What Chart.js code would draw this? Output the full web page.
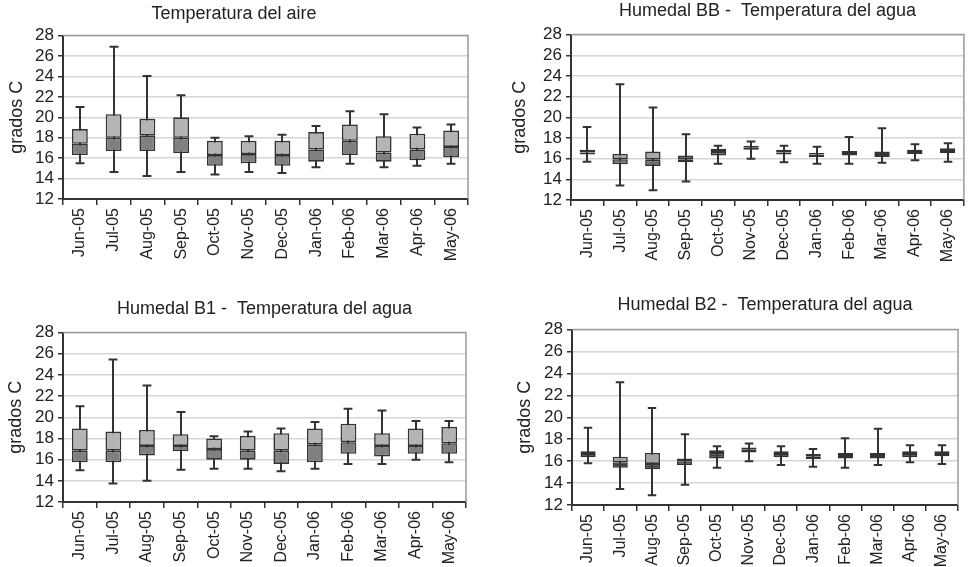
<!DOCTYPE html>
<html>
<head>
<meta charset="utf-8">
<script src="https://cdn.jsdelivr.net/npm/chart.js@4.4.1/dist/chart.umd.min.js"></script>
<style>
  html, body { margin: 0; padding: 0; background: #fff; }
  #wrap { position: relative; width: 970px; height: 567px; }
  .panel { position: absolute; }
</style>
</head>
<body>
<div id="wrap">
  <div class="panel" style="left:0;top:0;width:485px;height:290px"><canvas id="c1"></canvas></div>
  <div class="panel" style="left:485px;top:0;width:485px;height:290px"><canvas id="c2"></canvas></div>
  <div class="panel" style="left:0;top:290px;width:485px;height:277px"><canvas id="c3"></canvas></div>
  <div class="panel" style="left:485px;top:290px;width:485px;height:277px"><canvas id="c4"></canvas></div>
</div>
<script>
const months = ["Jun-05", "Jul-05", "Aug-05", "Sep-05", "Oct-05", "Nov-05",
                "Dec-05", "Jan-06", "Feb-06", "Mar-06", "Apr-06", "May-06"];
const yTicks = [12, 14, 16, 18, 20, 22, 24, 26, 28];

// Temperatura del aire
const aireMin = [15.5, 14.65, 14.25, 14.65, 14.4, 14.65, 14.55, 15.1, 15.45, 15.1, 15.25, 15.45];
const aireQ1  = [16.3, 16.7, 16.7, 16.5, 15.25, 15.5, 15.25, 15.65, 16.3, 15.65, 15.8, 16.1];
const aireMed = [17.4, 18.0, 18.2, 18.0, 16.3, 16.4, 16.3, 16.85, 17.7, 16.55, 16.85, 17.1];
const aireQ3  = [18.85, 20.3, 19.85, 20.0, 17.7, 17.7, 17.7, 18.55, 19.3, 18.15, 18.4, 18.7];
const aireMax = [21.0, 26.9, 24.05, 22.15, 18.0, 18.15, 18.3, 19.15, 20.6, 20.3, 19.0, 19.3];

// Humedal BB - agua
const bbMin = [15.7, 13.4, 12.95, 13.8, 15.5, 16.0, 15.65, 15.5, 15.5, 15.6, 15.85, 15.7];
const bbQ1  = [16.4, 15.45, 15.3, 15.65, 16.3, 16.85, 16.4, 16.15, 16.3, 16.15, 16.45, 16.55];
const bbMed = [16.6, 15.95, 15.9, 15.95, 16.65, 17.1, 16.6, 16.4, 16.55, 16.45, 16.65, 16.75];
const bbQ3  = [16.85, 16.45, 16.7, 16.3, 16.95, 17.25, 16.85, 16.55, 16.75, 16.7, 16.85, 17.0];
const bbMax = [19.05, 23.2, 20.95, 18.35, 17.25, 17.65, 17.25, 17.15, 18.1, 18.95, 17.4, 17.5];

// Humedal B1 - agua
const b1Min = [15.0, 13.75, 14.0, 15.05, 15.15, 15.15, 14.9, 15.15, 15.6, 15.6, 16.0, 15.75];
const b1Q1  = [15.75, 15.75, 16.4, 16.8, 16.0, 16.0, 15.6, 15.75, 16.55, 16.3, 16.55, 16.55];
const b1Med = [16.85, 16.85, 17.3, 17.3, 17.0, 16.85, 16.85, 17.45, 17.65, 17.3, 17.3, 17.55];
const b1Q3  = [18.95, 18.65, 18.8, 18.4, 18.0, 18.25, 18.5, 18.95, 19.4, 18.5, 18.95, 19.1];
const b1Max = [21.05, 25.45, 23.0, 20.5, 18.2, 18.65, 18.95, 19.55, 20.8, 20.65, 19.65, 19.65];

// Humedal B2 - agua
const b2Min = [15.8, 13.45, 12.9, 13.85, 15.4, 16.0, 15.65, 15.5, 15.4, 15.65, 15.9, 15.75];
const b2Q1  = [16.35, 15.4, 15.25, 15.65, 16.25, 16.8, 16.35, 16.2, 16.25, 16.25, 16.35, 16.45];
const b2Med = [16.65, 15.9, 15.75, 16.0, 16.75, 17.05, 16.65, 16.45, 16.55, 16.55, 16.65, 16.65];
const b2Q3  = [16.9, 16.4, 16.75, 16.25, 17.0, 17.25, 16.9, 16.65, 16.75, 16.75, 16.9, 16.9];
const b2Max = [19.05, 23.2, 20.85, 18.45, 17.35, 17.6, 17.35, 17.1, 18.1, 18.95, 17.45, 17.45];

const FONT = "'Liberation Sans', Arial, sans-serif";
const DARK = "#333";

// whiskers go under the boxes, plus the grey top/right frame of the plot area
function whiskerPlugin(mins, maxs) {
  return {
    id: "whiskers",
    beforeDatasetsDraw(chart) {
      const { ctx, chartArea: a } = chart;
      const y = chart.scales.y;
      ctx.save();
      ctx.strokeStyle = "#9a9a9a";
      ctx.lineWidth = 1.5;
      ctx.beginPath();
      ctx.moveTo(a.left, a.top);
      ctx.lineTo(a.right, a.top);
      ctx.lineTo(a.right, a.bottom);
      ctx.stroke();

      ctx.strokeStyle = DARK;
      ctx.lineWidth = 2;
      chart.getDatasetMeta(0).data.forEach((bar, i) => {
        const x = Math.round(bar.x);
        const top = y.getPixelForValue(maxs[i]);
        const bot = y.getPixelForValue(mins[i]);
        const cw = bar.width * 0.28;
        ctx.beginPath();
        ctx.moveTo(x, top); ctx.lineTo(x, bot);
        ctx.moveTo(x - cw, top); ctx.lineTo(x + cw, top);
        ctx.moveTo(x - cw, bot); ctx.lineTo(x + cw, bot);
        ctx.stroke();
      });
      ctx.restore();
    }
  };
}

function boxChart(id, title, mins, q1, med, q3, maxs, L) {
  new Chart(document.getElementById(id), {
    type: "bar",
    data: {
      labels: months,
      datasets: [
        { data: q1.map((v, i) => [v, med[i]]), backgroundColor: L.low },
        { data: med.map((v, i) => [v, q3[i]]), backgroundColor: L.up }
      ]
    },
    options: {
      responsive: true,
      maintainAspectRatio: false,
      animation: false,
      layout: { padding: { left: 0, right: L.padRight, top: 0, bottom: 0 } },
      datasets: {
        bar: {
          grouped: false,
          barPercentage: 0.47,
          categoryPercentage: 1,
          borderSkipped: false,
          borderWidth: 1.6,
          borderColor: DARK
        }
      },
      plugins: {
        legend: { display: false },
        tooltip: { enabled: false },
        title: {
          display: true,
          text: title,
          fullSize: L.fullSize,
          color: "#222",
          font: { family: FONT, size: 18, weight: "normal" },
          padding: { top: L.tTop, bottom: L.tBottom }
        }
      },
      scales: {
        x: {
          afterFit: s => { s.height = L.xHeight; },
          grid: {
            offset: true,
            drawOnChartArea: false,
            color: DARK,
            lineWidth: 1.5,
            tickLength: 6
          },
          border: { display: true, color: DARK, width: 2 },
          ticks: {
            autoSkip: false,
            minRotation: 90,
            maxRotation: 90,
            padding: 3,
            color: "#222",
            font: { family: FONT, size: 16 }
          }
        },
        y: {
          min: 12,
          max: 28,
          afterFit: s => { s.width = L.yWidth; },
          afterBuildTicks: s => { s.ticks = yTicks.map(v => ({ value: v })); },
          grid: {
            color: "#d6d6d6",
            lineWidth: 1.5,
            tickColor: DARK,
            tickLength: 5
          },
          border: { display: true, color: DARK, width: 2 },
          ticks: {
            autoSkip: false,
            padding: 4,
            color: "#222",
            font: { family: FONT, size: 17 }
          },
          title: {
            display: true,
            text: "grados C",
            color: "#222",
            font: { family: FONT, size: 18 },
            padding: { top: L.yTitlePad, bottom: 0 }
          }
        }
      }
    },
    plugins: [whiskerPlugin(mins, maxs)]
  });
}

boxChart("c1", "Temperatura del aire", aireMin, aireQ1, aireMed, aireQ3, aireMax,
  { low: "#808080", up: "#b4b4b4", padRight: 17, yWidth: 63, xHeight: 91,
    tTop: 3, tBottom: 11, yTitlePad: 6, fullSize: true });
boxChart("c2", "Humedal BB -  Temperatura del agua", bbMin, bbQ1, bbMed, bbQ3, bbMax,
  { low: "#6e6e6e", up: "#a8a8a8", padRight: 3, yWidth: 86, xHeight: 90,
    tTop: 0, tBottom: 13, yTitlePad: 24, fullSize: false });
boxChart("c3", "Humedal B1 -  Temperatura del agua", b1Min, b1Q1, b1Med, b1Q3, b1Max,
  { low: "#808080", up: "#b4b4b4", padRight: 19, yWidth: 63, xHeight: 65,
    tTop: 8, tBottom: 13, yTitlePad: 5, fullSize: false });
boxChart("c4", "Humedal B2 -  Temperatura del agua", b2Min, b2Q1, b2Med, b2Q3, b2Max,
  { low: "#3c3c3c", up: "#a5a5a5", padRight: 12, yWidth: 87, xHeight: 62,
    tTop: 4, tBottom: 14, yTitlePad: 29, fullSize: false });
</script>
</body>
</html>
